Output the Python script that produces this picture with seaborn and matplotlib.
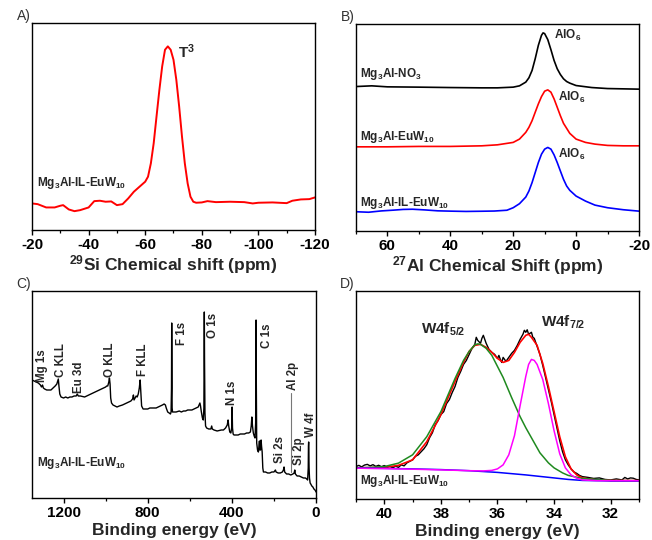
import numpy as np
import pandas as pd
import matplotlib
matplotlib.use("Agg")
import matplotlib.pyplot as plt
from matplotlib.ticker import MultipleLocator
import seaborn as sns

# ---------------- data ----------------
# Panel A: 29Si NMR
si_ppm = [-20, -22, -25, -28, -30, -31, -33, -35, -37, -40, -42, -44, -46, -48, -50, -52,
          -54, -56, -58, -60, -61, -62, -63, -64, -65, -66, -67, -68, -69, -70, -71, -72,
          -73, -74, -75, -76, -77, -78, -80, -82, -85, -90, -95, -98, -100, -105, -110,
          -112, -115, -118, -120]
si_int = [26, 25.3, 22, 22, 23.7, 24.3, 20, 18.3, 19.3, 22, 28.3, 28.7, 27.7, 28, 24.3, 25.3,
          31, 37.7, 42.7, 47.7, 52.7, 66, 86, 112.7, 139, 162.7, 179.3, 182.7, 179.3, 169.3, 149.3, 122.7,
          92.7, 66, 46, 32.7, 27.7, 26.7, 27, 28.3, 27.3, 27.7, 27.3, 26, 26.7, 27, 26.3,
          28.7, 30, 30.3, 32]

# Panel B: 27Al NMR
al_ppm_k = [70, 65, 60, 50, 40, 30, 25, 20, 18, 16, 15, 14, 13, 12, 11, 10.5, 10, 9, 8, 7, 6,
            5, 4, 3, 2, 0, -5, -10, -15, -20]
al_int_k = [143.3, 144, 143, 142.7, 142.3, 142, 142, 142.7, 144, 147.7, 152, 159.3, 171, 184.3,
            194.3, 196.7, 196, 190, 180, 169.3, 161, 155.3, 151, 148.3, 146.7, 144.3, 142.3,
            141.3, 141, 140.7]
al_ppm_r = [70, 60, 50, 40, 30, 25, 20, 18, 16, 15, 14, 13, 12, 11, 10, 9, 8, 7, 6, 5, 4, 3, 2,
            0, -3, -6, -10, -15, -20]
al_int_r = [83.3, 83.3, 83.7, 83.7, 84.3, 85.3, 87.7, 91, 97.7, 102.7, 109.3, 117.7, 126, 133.3,
            138.7, 140, 137.7, 131, 122.7, 114.3, 106.7, 101.7, 96.7, 91, 87.7, 86, 84.7, 84.3, 84.3]
al_ppm_b = [70, 66, 62, 58, 55, 52, 48, 44, 40, 35, 30, 26, 22, 20, 18, 16, 15, 14, 13, 12, 11,
            10, 9, 8, 7, 6, 5, 4, 3, 2, 0, -3, -6, -10, -15, -20]
al_int_b = [18.7, 18.2, 19.5, 20.3, 21, 21.2, 20.5, 19.6, 19.3, 19.0, 19.2, 19.4, 20.2, 22.7,
            26.7, 33.3, 39.3, 47.7, 57.7, 67.7, 76, 81, 82.7, 81, 75.3, 67.7, 59.3, 51, 44.3, 40,
            34.3, 29.3, 25.3, 22.7, 20.7, 19.3]

# Panel C: XPS survey
xps_be = [1350, 1340, 1330, 1320, 1310, 1305, 1300, 1296, 1290, 1280, 1270, 1260, 1250, 1240,
          1232, 1228, 1225, 1222, 1218, 1212, 1200, 1190, 1180, 1170, 1160, 1150, 1140, 1135,
          1130, 1120, 1100, 1090, 1080, 1070, 1060, 1050, 1040, 1030, 1020, 1010, 1000, 995,
          990, 985, 982, 979, 976, 972, 965, 955, 946, 935, 920, 910, 900, 890, 880, 872, 868,
          865, 860, 855, 850, 845, 840, 836, 833, 829, 822, 810, 800, 790, 780, 770, 760, 750,
          740, 730, 722, 716, 712, 705, 698, 692, 689, 687, 686, 685, 684, 682, 675, 665, 650,
          640, 630, 620, 610, 600, 590, 580, 570, 560, 556, 552, 549, 545, 540, 536, 533, 531,
          530, 528, 525, 520, 510, 500, 496, 493, 485, 470, 450, 440, 430, 422, 418, 415, 410,
          405, 401, 399, 397, 394, 390, 380, 370, 360, 350, 340, 330, 320, 312, 308, 305, 302,
          298, 294, 290, 287, 285, 284, 282, 278, 274, 271, 269, 267, 264, 261, 259, 256, 253,
          250, 240, 230, 220, 210, 200, 193, 190, 180, 170, 160, 155, 152, 149, 140, 130, 120,
          110, 104, 101, 98, 90, 80, 70, 60, 50, 44, 40, 37, 36, 35, 34, 33, 31, 28, 25, 20, 15,
          10, 5, 2, 0]
xps_int = [118, 117, 116, 115, 113, 111, 113, 110, 109, 108, 108, 108, 110, 112,
           114, 117, 119, 112, 104, 101, 100, 101, 100, 101, 101, 102, 102, 104,
           102, 102, 101, 102, 103, 104, 105, 106, 107, 108, 109, 110, 111, 112,
           112, 116, 120, 114, 100, 95, 93, 92, 91, 92, 93, 94, 95, 96, 97, 99, 103,
           98, 100, 102, 101, 104, 110, 118, 106, 92, 89, 89, 89, 90, 90, 90, 90, 91,
           92, 93, 94, 93, 90, 86, 85, 84, 86, 110, 175, 130, 90, 86, 86, 86, 87,
           86, 87, 87, 88, 88, 88, 89, 90, 91, 93, 95, 92, 86, 80, 78, 90, 186,
           140, 85, 72, 70, 69, 69, 72, 69, 68, 67, 68, 68, 70, 73, 78, 72, 66,
           65, 70, 91, 70, 64, 63, 63, 63, 64, 64, 64, 65, 65, 66, 72, 81, 72,
           65, 62, 60, 75, 178, 120, 55, 48, 46, 52, 57, 48, 48, 58, 52, 46, 30,
           26, 26, 25, 25, 26, 26, 28, 26, 25, 25, 26, 28, 31, 26, 24, 24, 23,
           24, 25, 28, 24, 22, 22, 21, 20, 20, 19, 18, 30, 52, 56, 45, 30, 20, 15, 14, 12, 11,
           9, 8, 7, 6]
xps_labels = ["Mg 1s", "C KLL", "Eu 3d", "O KLL", "F KLL", "F 1s", "O 1s", "N 1s", "C 1s",
              "Al 2p", "Si 2s", "Si 2p", "W 4f"]
xps_label_be = [1301, 1214, 1129, 977, 822, 637, 490, 400, 234, 110, 171, 79, 25]
xps_label_int = [116, 121, 105, 121, 122, 153, 160, 93, 150, 108, 35, 33, 61]
al2p_marker_be = [118, 118]
al2p_marker_int = [104.7, 26.3]

# Panel D: W4f high resolution
w_be = [41.0, 40.9, 40.8, 40.7, 40.6, 40.5, 40.4, 40.3, 40.2, 40.1, 40.0, 39.9, 39.8, 39.7,
        39.6, 39.5, 39.4, 39.3, 39.2, 39.1, 39.0, 38.9, 38.8, 38.7, 38.6, 38.5, 38.4, 38.3,
        38.2, 38.1, 38.0, 37.9, 37.8, 37.7, 37.6, 37.5, 37.4, 37.3, 37.2, 37.1, 37.0, 36.9,
        36.8, 36.75, 36.7, 36.6, 36.55, 36.5, 36.4, 36.3, 36.2, 36.1, 36.0, 35.95, 35.9,
        35.85, 35.8, 35.7, 35.6, 35.5, 35.4, 35.3, 35.2, 35.1, 35.05, 35.0, 34.95, 34.9,
        34.8, 34.75, 34.7, 34.6, 34.5, 34.4, 34.3, 34.2, 34.1, 34.0, 33.9, 33.8, 33.7, 33.6,
        33.5, 33.4, 33.3, 33.2, 33.1, 33.0, 32.8, 32.6, 32.4, 32.2, 32.0, 31.8, 31.6, 31.5,
        31.4, 31.3, 31.2, 31.1, 31.0]
w_raw = [32.3, 33.5, 32.0, 33.8, 34.5, 33.0, 34.2, 32.5, 33.6, 32.2, 33.3, 31.8, 32.6, 31.0,
         32.8, 31.5, 34.0, 33.0, 36.0, 37.5, 39.0, 42.5, 44.0, 47.0, 50.0, 54.0, 61.0, 66.0,
         74.0, 78.0, 84.0, 87.0, 95.0, 99.0, 106.0, 112.0, 121.0, 127.0, 134.0, 138.0, 144.0,
         150.0, 154.0, 161.0, 158.0, 155.0, 160.0, 163.0, 155.0, 149.0, 146.0, 144.0, 140.0,
         143.0, 139.0, 136.0, 141.0, 137.0, 141.0, 145.0, 148.0, 153.0, 159.0, 164.0, 168.0,
         166.0, 168.5, 164.0, 166.0, 161.0, 160.0, 152.0, 144.0, 133.0, 121.0, 109.0, 97.0,
         84.0, 71.0, 58.0, 47.0, 39.0, 34.0, 30.0, 27.0, 25.5, 23.5, 22.3, 21.5, 20.5, 21.0,
         19.5, 19.0, 20.0, 19.0, 21.5, 20.0, 21.0, 20.7, 19.5, 19.0]
fit_be = [41, 40, 39.5, 39, 38.5, 38, 37.5, 37.2, 37, 36.8, 36.6, 36.4, 36.2, 36, 35.8, 35.6,
          35.4, 35.2, 35.0, 34.9, 34.8, 34.6, 34.4, 34.2, 34, 33.8, 33.6, 33.4, 33.2, 33, 32.5,
          32, 31]
fit_sum = [31, 31.5, 33.5, 39, 57, 84, 117, 136, 147, 153, 154, 151, 146, 140, 136, 138,
           146, 156, 163, 164, 161, 153, 135, 112, 87, 62, 42, 30, 24, 21, 19, 18.5, 18.3]
w52_be = [41, 40.5, 40, 39.5, 39, 38.5, 38, 37.5, 37.2, 37, 36.8, 36.7, 36.6, 36.4, 36.2, 36,
          35.8, 35.5, 35.2, 35, 34.7, 34.5, 34.2, 34, 33.7, 33.5, 33, 32.5, 32, 31]
w52_int = [31, 31.5, 32.3, 35.7, 44, 62, 87, 120, 138, 147, 153.5, 154.5, 154, 150, 143, 132,
           121, 101, 82, 71, 56, 46, 36, 31, 26, 23.5, 20.5, 19.5, 18.5, 18.2]
w72_be = [41, 40, 39, 38, 37, 36.5, 36.2, 36, 35.8, 35.6, 35.4, 35.2, 35.0, 34.9, 34.8, 34.7,
          34.6, 34.4, 34.2, 34.0, 33.8, 33.6, 33.4, 33.2, 33, 32.5, 31]
w72_int = [30.7, 30.3, 29.7, 29.0, 28.2, 28.0, 28.5, 30, 34, 44, 63, 93, 122, 134, 139, 138,
           134, 119, 95, 68, 45, 31, 24, 20.7, 19, 18.3, 18.2]
bg_be = [41, 40, 39, 38, 37, 36, 35, 34, 33.5, 33, 32, 31]
bg_int = [30.7, 30.5, 30, 29.3, 28.2, 26.5, 24, 21, 19.5, 18.5, 18, 18]

# ---------------- style ----------------
sns.set_theme(style="ticks")
plt.rcParams.update({
    "font.family": ["Liberation Sans", "DejaVu Sans"],
    "font.weight": "bold",
    "axes.unicode_minus": False,
    "mathtext.fontset": "custom",
    "mathtext.rm": "Liberation Sans:bold",
    "mathtext.bf": "Liberation Sans:bold",
    "mathtext.it": "Liberation Sans:bold",
    "mathtext.sf": "Liberation Sans:bold",
    "mathtext.default": "rm",
    "axes.edgecolor": "black",
    "axes.linewidth": 1.0,
    "xtick.color": "black",
    "xtick.major.size": 3.5,
    "xtick.minor.size": 2.5,
    "xtick.major.width": 1.0,
    "xtick.minor.width": 0.9,
    "xtick.direction": "out",
})

fig = plt.figure(figsize=(6.52, 5.40), dpi=100)
axA = fig.add_axes([0.0491, 0.575, 0.434, 0.3824])
axB = fig.add_axes([0.546, 0.5731, 0.434, 0.3833])
axC = fig.add_axes([0.0491, 0.0778, 0.4356, 0.3833])
axD = fig.add_axes([0.546, 0.0759, 0.434, 0.385])

def style(ax, xlim, ylim, major, minor, xlabel, letter, labelpad=1):
    ax.set_xlim(*xlim)
    ax.set_ylim(*ylim)
    ax.set_yticks([])
    ax.set_ylabel("")
    ax.xaxis.set_major_locator(MultipleLocator(major))
    ax.xaxis.set_minor_locator(MultipleLocator(minor))
    ax.tick_params(axis="x", which="major", labelsize=11, pad=2.5)
    for lab in ax.get_xticklabels():
        lab.set_fontweight("bold")
    ax.set_xlabel(xlabel, fontsize=12.5, fontweight="bold", labelpad=labelpad)
    for s in ax.spines.values():
        s.set_visible(True)
        s.set_color("black")
    ax.text(-0.005, 1.0, letter, transform=ax.transAxes, ha="right", va="bottom",
            fontsize=10, fontweight="normal", color="#333333")

# Panel A
sns.lineplot(x=si_ppm, y=si_int, ax=axA, color="#ff0000", lw=1.4, sort=False, estimator=None)
style(axA, (-20, -120), (0, 206), 20, 10, r"$^{29}$Si Chemical shift (ppm)", "A)")
axA.text(-71.6, 177, r"T$^{3}$", fontsize=11, ha="left", va="center")
axA.text(-21.8, 46, r"Mg$_3$Al-IL-EuW$_{10}$", fontsize=8.5, ha="left", va="center")

# Panel B
sns.lineplot(x=al_ppm_k, y=al_int_k, ax=axB, color="black", lw=1.2, sort=False, estimator=None)
sns.lineplot(x=al_ppm_r, y=al_int_r, ax=axB, color="#ff0000", lw=1.2, sort=False, estimator=None)
sns.lineplot(x=al_ppm_b, y=al_int_b, ax=axB, color="#0000ff", lw=1.2, sort=False, estimator=None)
style(axB, (70, -20), (0, 206), 20, 10, r"$^{27}$Al Chemical Shift (ppm)", "B)")
axB.text(68.6, 156, r"Mg$_3$Al-NO$_3$", fontsize=8.5, ha="left", va="center")
axB.text(68.6, 93, r"Mg$_3$Al-EuW$_{10}$", fontsize=8.5, ha="left", va="center")
axB.text(68.6, 27, r"Mg$_3$Al-IL-EuW$_{10}$", fontsize=8.5, ha="left", va="center")
axB.text(6.9, 194, r"AlO$_6$", fontsize=8.5, ha="left", va="center")
axB.text(5.7, 132, r"AlO$_6$", fontsize=8.5, ha="left", va="center")
axB.text(5.8, 76, r"AlO$_6$", fontsize=8.5, ha="left", va="center")

# Panel C
sns.lineplot(x=xps_be, y=xps_int, ax=axC, color="black", lw=1.0, sort=False, estimator=None)
sns.lineplot(x=al2p_marker_be, y=al2p_marker_int, ax=axC, color="#777777", lw=0.8,
             sort=False, estimator=None)
style(axC, (1350, 0), (0, 207), 400, 200, "Binding energy (eV)", "C)", labelpad=2.2)
for lab, xb, yi in zip(xps_labels, xps_label_be, xps_label_int):
    axC.text(xb, yi, lab, rotation=90, fontsize=8.3, ha="center", va="bottom")
axC.text(1325, 35, r"Mg$_3$Al-IL-EuW$_{10}$", fontsize=8.5, ha="left", va="center")

# Panel D
sns.lineplot(x=w_be, y=w_raw, ax=axD, color="black", lw=1.0, sort=False, estimator=None)
sns.lineplot(x=fit_be, y=fit_sum, ax=axD, color="#ff0000", lw=1.2, sort=False, estimator=None)
sns.lineplot(x=w52_be, y=w52_int, ax=axD, color="#1f8a1f", lw=1.1, sort=False, estimator=None)
sns.lineplot(x=bg_be, y=bg_int, ax=axD, color="#0000ff", lw=1.1, sort=False, estimator=None)
sns.lineplot(x=w72_be, y=w72_int, ax=axD, color="#ff00ff", lw=1.1, sort=False, estimator=None)
style(axD, (41, 31), (0, 207), 2, 1, "Binding energy (eV)", "D)", labelpad=2.2)
axD.text(38.70, 169, r"W4f$_{5/2}$", fontsize=11, ha="left", va="center")
axD.text(34.47, 175.5, r"W4f$_{7/2}$", fontsize=11, ha="left", va="center")
axD.text(40.86, 17.7, r"Mg$_3$Al-IL-EuW$_{10}$", fontsize=8.5, ha="left", va="center")

fig.savefig("out.png", dpi=100)
